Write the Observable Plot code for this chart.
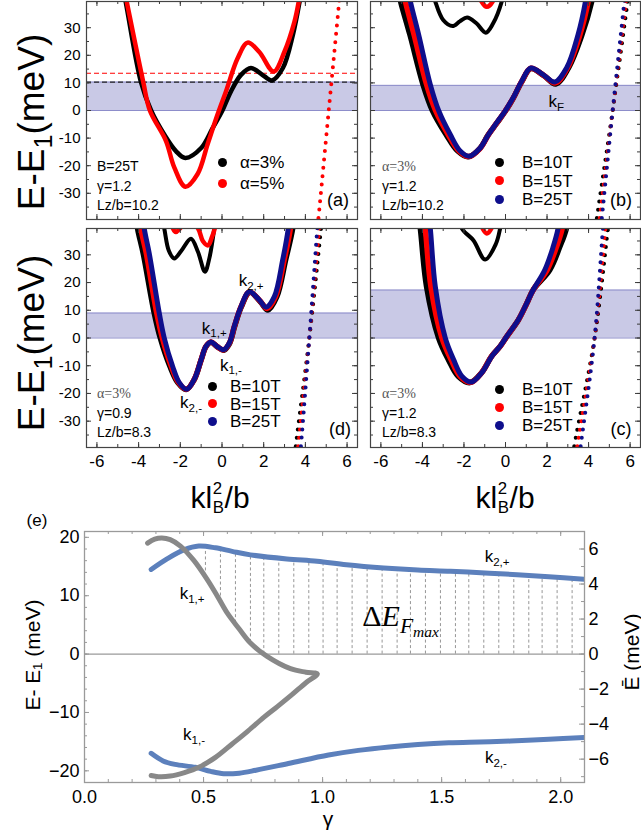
<!DOCTYPE html>
<html><head><meta charset="utf-8">
<script src="https://cdn.jsdelivr.net/npm/d3@7"></script>
<script src="https://cdn.jsdelivr.net/npm/@observablehq/plot@0.6"></script>
<style>
body{margin:0;background:#fff;}
#fig{position:relative;width:641px;height:837px;overflow:hidden;background:#fff;}
</style></head><body><div id="fig"></div>
<script>
// ---------------- DATA ----------------
// axes
const kDomain = [-6.5, 6.5];
const eDomain = [-39.5, 39.5];
const kMinor = [-6,-5,-4,-3,-2,-1,0,1,2,3,4,5,6];
const kMajor = [-6,-4,-2,0,2,4,6];
const eMinor = [-35,-30,-25,-20,-15,-10,-5,0,5,10,15,20,25,30,35];
const eMajor = [-30,-20,-10,0,10,20,30];

// panel (a): B=25T, gamma=1.2, Lz/b=10.2
const a3 = [[-4.85,48],[-4.62,39.4],[-3.89,10.4],[-3.4,0],[-2.77,-8.7],[-2.21,-14.7],[-1.76,-17.2],[-1.0,-13.6],[-0.45,-6.4],[0.02,0],[0.43,6.9],[0.91,12.9],[1.39,15.4],[2.03,12.4],[2.4,10.9],[2.92,15.4],[3.4,27.4],[3.72,39.4],[3.9,48]];
const a5 = [[-4.8,48],[-4.57,39.4],[-3.78,10.4],[-3.46,0],[-2.69,-11],[-2.29,-20.6],[-1.76,-27.6],[-1.17,-23],[-0.69,-12.2],[-0.21,-1.4],[0.19,6.9],[0.75,18.9],[1.23,24.6],[1.79,21.2],[2.48,14.1],[2.99,21.2],[3.47,32],[3.68,39.4],[3.85,48]];
const aDot5 = [[4.5,-48],[4.62,-39.5],[5.12,0],[5.62,39.5],[5.72,48]];
const bandA = [0, 10.3];
const dashA3 = [10.3];
const dashA5 = [13.5];

// panel (b): alpha=3%, gamma=1.2, Lz/b=10.2
const b10 = [[-5.3,48],[-5.05,39.5],[-4.6,27.4],[-3.97,9.4],[-3.52,0],[-2.86,-8.7],[-2.3,-14.7],[-1.8,-16.8],[-1.24,-13.8],[-0.84,-8.9],[-0.42,-4.6],[-0.02,-0.4],[0.37,4.4],[0.78,10.4],[1.22,15.2],[1.85,12.6],[2.42,9.6],[3.03,15.4],[3.68,27.4],[4.15,39.5],[4.35,48]];
const b15 = [[-5.05,48],[-4.82,39.5],[-4.4,27.4],[-3.8,9.4],[-3.37,0],[-2.76,-8.7],[-2.24,-14.7],[-1.77,-16.7],[-1.22,-13.7],[-0.82,-8.8],[-0.42,-4.5],[-0.02,-0.3],[0.37,4.5],[0.78,10.5],[1.22,15.3],[1.83,12.8],[2.4,10.0],[2.98,15.4],[3.58,27.4],[3.98,39.5],[4.15,48]];
const b25 = [[-4.8,48],[-4.58,39.5],[-4.18,27.4],[-3.62,9.4],[-3.22,0],[-2.66,-8.7],[-2.18,-14.7],[-1.75,-16.6],[-1.22,-13.6],[-0.82,-8.7],[-0.42,-4.4],[-0.02,-0.2],[0.37,4.6],[0.78,10.6],[1.22,15.4],[1.81,13.0],[2.37,10.3],[2.94,15.4],[3.49,27.4],[3.85,39.5],[4.0,48]];
const bUp10 = [[-3.6,46],[-3.38,39.5],[-3.0,32.8],[-2.55,30.6],[-2.2,32.3],[-1.85,33.7],[-1.4,31.6],[-0.95,28.2],[-0.6,31.5],[-0.18,39.5],[-0.02,46]];
const bUp15 = [[-1.35,45],[-1.15,39.5],[-0.9,37.6],[-0.62,39.5],[-0.45,45]];
const bDot10 = [[4.25,-48],[4.39,-39.5],[5.16,0],[5.88,39.5],[6.02,48]];
const bDot15 = [[4.39,-48],[4.53,-39.5],[5.16,0],[5.8,39.5],[5.93,48]];
const bDot25 = [[4.5,-48],[4.63,-39.5],[5.16,0],[5.72,39.5],[5.84,48]];
const bandB = [0, 9.1];

// panel (d): alpha=3%, gamma=0.9, Lz/b=8.3
const d10 = [[-4.2,48],[-4.05,39.5],[-3.78,30.5],[-3.25,9],[-2.96,0],[-2.5,-10.2],[-2.12,-16.1],[-1.72,-18.6],[-1.33,-15],[-1.0,-7.9],[-0.77,-3.1],[-0.53,-1.5],[-0.24,-3.1],[0.08,-4.4],[0.36,-2.0],[0.6,4.0],[0.92,11.1],[1.33,16.5],[1.84,13.1],[2.2,10.1],[2.63,14.9],[3.05,28.1],[3.39,39.5],[3.52,48]];
const d15 = [[-4.02,48],[-3.89,39.5],[-3.63,30.5],[-3.13,9],[-2.86,0],[-2.43,-10.2],[-2.08,-16.1],[-1.7,-18.5],[-1.33,-14.95],[-1.0,-7.85],[-0.77,-3.05],[-0.53,-1.45],[-0.24,-3.05],[0.08,-4.3],[0.35,-1.9],[0.59,4.1],[0.91,11.2],[1.32,16.6],[1.82,13.4],[2.16,10.6],[2.57,14.9],[2.98,28.1],[3.28,39.5],[3.4,48]];
const d25 = [[-3.85,48],[-3.73,39.5],[-3.49,30.5],[-3.01,9],[-2.77,0],[-2.37,-10.2],[-2.05,-16.1],[-1.69,-18.5],[-1.33,-14.9],[-1.0,-7.8],[-0.77,-3.0],[-0.53,-1.4],[-0.24,-3.0],[0.08,-4.2],[0.35,-1.8],[0.59,4.2],[0.91,11.3],[1.31,16.7],[1.79,13.7],[2.11,11.1],[2.51,14.9],[2.91,28.1],[3.18,39.5],[3.3,48]];
const dUp10 = [[-2.95,46],[-2.77,39.5],[-2.55,31.5],[-2.29,28.7],[-1.95,31.5],[-1.49,35.8],[-1.15,31],[-0.82,23.9],[-0.6,29],[-0.37,39.5],[-0.25,46]];
const dUp15 = [[-2.5,46],[-2.35,39.5],[-2.21,38.2],[-2.02,39.5],[-1.6,42.5],[-1.15,39.5],[-0.92,35],[-0.67,33.4],[-0.5,36],[-0.35,39.5],[-0.25,46]];
const dDot10 = [[3.42,-48],[3.53,-39.5],[4.19,0],[4.75,39.5],[4.86,48]];
const dDot15 = [[3.54,-48],[3.65,-39.5],[4.19,0],[4.66,39.5],[4.76,48]];
const dDot25 = [[3.67,-48],[3.78,-39.5],[4.19,0],[4.57,39.5],[4.66,48]];
const bandD = [0, 9.0];

// panel (c): alpha=3%, gamma=1.2, Lz/b=8.3
const c10 = [[-4.25,48],[-4.1,39.5],[-3.8,18.5],[-3.22,0],[-2.75,-7.8],[-2.28,-13.8],[-1.72,-16.1],[-1.16,-12.6],[-0.68,-6.7],[-0.27,-3.1],[0.06,0.5],[0.62,6.5],[1.02,12.4],[1.33,17.3],[2.13,24.5],[2.61,32.8],[2.93,39.5],[3.08,48]];
const c15 = [[-4.0,48],[-3.86,39.5],[-3.59,18.5],[-3.06,0],[-2.62,-7.8],[-2.19,-13.8],[-1.68,-16.0],[-1.15,-12.55],[-0.67,-6.65],[-0.26,-3.05],[0.06,0.55],[0.62,6.55],[1.02,12.45],[1.33,17.3],[2.0,24.5],[2.45,32.8],[2.73,39.5],[2.87,48]];
const c25 = [[-3.75,48],[-3.62,39.5],[-3.38,18.5],[-2.9,0],[-2.5,-7.8],[-2.1,-13.8],[-1.65,-15.9],[-1.14,-12.5],[-0.66,-6.6],[-0.26,-3.0],[0.06,0.6],[0.62,6.6],[1.02,12.5],[1.33,17.3],[1.89,24.5],[2.29,32.8],[2.53,39.5],[2.65,48]];
const cUp10 = [[-2.3,46],[-2.1,39.5],[-1.54,35.2],[-0.98,28.3],[-0.46,34],[-0.26,39.5],[-0.12,46]];
const cUp15 = [[-1.3,45],[-1.1,39.5],[-0.9,37.7],[-0.68,39.5],[-0.5,45]];
const cDot10 = [[3.15,-48],[3.3,-39.5],[4.29,0],[4.93,39.5],[5.05,48]];
const cDot15 = [[3.3,-48],[3.45,-39.5],[4.29,0],[4.81,39.5],[4.93,48]];
const cDot25 = [[3.46,-48],[3.61,-39.5],[4.29,0],[4.69,39.5],[4.8,48]];
const bandC = [0, 17.3];

// panel (e): energies vs gamma
const gDomain = [0, 2.1];
const eeDomain = [-22, 21];
const gMinor = [0,0.1,0.2,0.3,0.4,0.5,0.6,0.7,0.8,0.9,1.0,1.1,1.2,1.3,1.4,1.5,1.6,1.7,1.8,1.9,2.0];
const gMajor = [0,0.5,1.0,1.5,2.0];
const eeMinor = [-20,-18,-16,-14,-12,-10,-8,-6,-4,-2,0,2,4,6,8,10,12,14,16,18,20];
const eeMajor = [-20,-10,0,10,20];
const ebarMinor = [-7,-6,-5,-4,-3,-2,-1,0,1,2,3,4,5,6,7];
const ebarMajor = [-6,-4,-2,0,2,4,6];
const EBAR_RATIO = 3; // left-axis meV per right-axis meV
const k2p = [[0.28,14.5],[0.35,16.4],[0.42,17.9],[0.48,18.5],[0.55,18.2],[0.62,17.6],[0.697,17.0],[0.85,16.3],[0.977,15.9],[1.1,15.3],[1.257,14.75],[1.4,14.4],[1.537,14.2],[1.7,13.85],[1.817,13.6],[1.95,13.25],[2.1,12.8]];
const k2m = [[0.28,-17.0],[0.33,-18.3],[0.38,-18.9],[0.466,-19.4],[0.53,-20.1],[0.585,-20.5],[0.65,-20.4],[0.72,-19.9],[0.856,-18.75],[1.025,-17.3],[1.15,-16.5],[1.28,-15.9],[1.4,-15.5],[1.53,-15.2],[1.66,-15.05],[1.79,-14.9],[1.95,-14.6],[2.1,-14.3]];
const k1 = [[0.265,19.0],[0.295,19.7],[0.325,19.9],[0.36,19.6],[0.403,18.5],[0.46,16.0],[0.515,12.8],[0.56,9.8],[0.6,7.0],[0.65,4.3],[0.697,1.9],[0.767,-0.4],[0.865,-2.5],[0.93,-3.1],[0.978,-3.4],[0.93,-4.9],[0.87,-7.0],[0.81,-9.0],[0.754,-10.8],[0.68,-13.4],[0.62,-15.4],[0.55,-17.7],[0.48,-19.4],[0.42,-20.3],[0.36,-20.9],[0.31,-21.0],[0.28,-20.8]];
const hatchG = [0.508,0.571,0.634,0.697,0.753,0.816,0.879,0.942,1.002,1.061,1.124,1.187,1.25,1.313,1.369,1.432,1.495,1.558,1.614,1.677,1.74,1.803,1.866,1.922,1.985,2.048];
const hatchLo = [13.3,9.0,5.3,2.0,0,0,0,0,0,0,0,0,0,0,0,0,0,0,0,0,0,0,0,0,0,0];
const hatchHi = [17.9,17.6,17.2,16.8,16.5,16.2,16.0,15.8,15.6,15.3,15.0,14.8,14.6,14.45,14.35,14.25,14.15,14.05,13.95,13.85,13.7,13.55,13.4,13.25,13.1,12.9];

// ---------------- DRAWING ----------------
const fig = document.getElementById("fig");
const FONT = "'Liberation Sans', Arial, sans-serif";
const SERIF = "'Liberation Serif', 'Times New Roman', serif";
const BLACK = "#000000", RED = "#ff0000", NAVY = "#0e0e8c";
const sub = s => `<span style="font-size:0.68em;position:relative;top:0.32em">${s}</span>`;

function txt(html, x, y, o = {}) {
  const d = document.createElement("div");
  d.innerHTML = html;
  const tx = o.anchor === "start" ? "0" : (o.anchor === "end" ? "-100%" : "-50%");
  d.style.cssText = `position:absolute;left:${x}px;top:${y}px;white-space:nowrap;line-height:1;font-size:${o.size || 14}px;font-family:${o.font || FONT};color:${o.color || "#000"};font-style:${o.italic ? "italic" : "normal"};transform:translate(${tx},-50%)${o.rotate ? " rotate(-90deg)" : ""};` + (o.css || "");
  fig.appendChild(d);
  return d;
}
function mount(svg, left, top) {
  svg.style.position = "absolute"; svg.style.left = left + "px"; svg.style.top = top + "px";
  fig.appendChild(svg); return svg;
}
function legendDot(color, x, y) {
  const s = document.createElement("div");
  s.style.cssText = `position:absolute;left:${x - 4.5}px;top:${y - 4.5}px;width:9px;height:9px;border-radius:50%;background:${color};`;
  fig.appendChild(s);
}

const xy = {x: d => d[0], y: d => d[1]};

function bandPanel(cfg) {
  const {left, top, width, height, mt, mb, ml, mr} = cfg;
  const fw = width - ml - mr, fh = height - mt - mb;
  const marks = [
    Plot.rect([cfg.band], {x1: () => kDomain[0], x2: () => kDomain[1], y1: d => d[0], y2: d => d[1], fill: "#9c9cd2", fillOpacity: 0.55}),
    Plot.ruleY(cfg.band, {stroke: "#8d8dca", strokeWidth: 1})
  ];
  for (const s of (cfg.dashed || [])) marks.push(Plot.ruleY(s.data, {stroke: s.color, strokeWidth: 1.2, strokeDasharray: "5,3"}));
  for (const s of cfg.dots) marks.push(Plot.line(s.data, {...xy, stroke: s.color, strokeWidth: 4, strokeDasharray: "0,8.4", strokeLinecap: "round", curve: "catmull-rom", clip: true}));
  for (const s of cfg.lines) marks.push(Plot.line(s.data, {...xy, stroke: s.color, strokeWidth: s.w, curve: "catmull-rom", clip: true}));
  const tc = "#3a3a3a";
  for (const [vals, len] of [[kMinor, 3], [kMajor, 5]]) {
    marks.push(Plot.tickX(vals, {x: d => d, insetTop: fh - len, stroke: tc}));
    marks.push(Plot.tickX(vals, {x: d => d, insetBottom: fh - len, stroke: tc}));
  }
  for (const [vals, len] of [[eMinor, 3], [eMajor, 5]]) {
    marks.push(Plot.tickY(vals, {y: d => d, insetRight: fw - len, stroke: tc}));
    marks.push(Plot.tickY(vals, {y: d => d, insetLeft: fw - len, stroke: tc}));
  }
  marks.push(Plot.frame({stroke: "#444", strokeWidth: 1.2}));
  if (cfg.yLabels) marks.push(Plot.axisY(eMajor, {anchor: "left", tickSize: 0, tickPadding: 6, tickFormat: d => String(d), fontSize: 15, label: null}));
  if (cfg.xLabels) marks.push(Plot.axisX(kMajor, {anchor: "bottom", tickSize: 0, tickPadding: 7, tickFormat: d => String(d), fontSize: 17, label: null}));
  const p = Plot.plot({
    width, height, marginTop: mt, marginBottom: mb, marginLeft: ml, marginRight: mr,
    x: {domain: kDomain, axis: null}, y: {domain: eDomain, axis: null},
    style: {fontFamily: FONT, background: "transparent", overflow: "visible", color: "#000"},
    marks
  });
  mount(p, left, top);
  const sx = p.scale("x"), sy = p.scale("y");
  for (const a of (cfg.notes || [])) txt(a.t, left + sx.apply(a.k), top + sy.apply(a.e), {size: 17});
  return p;
}

// (a)
bandPanel({left: 0, top: 0, width: 360, height: 224, mt: 1, mb: 5, ml: 86, mr: 3,
  band: bandA, yLabels: true,
  dashed: [{data: dashA5, color: RED}, {data: dashA3, color: "#222"}],
  dots: [{data: aDot5, color: RED}],
  lines: [{data: a3, color: BLACK, w: 4.5}, {data: a5, color: RED, w: 4.5}]
});
// (b)
bandPanel({left: 367, top: 0, width: 274, height: 224, mt: 1, mb: 5, ml: 3, mr: 1,
  band: bandB,
  dots: [{data: bDot10, color: BLACK}, {data: bDot15, color: RED}, {data: bDot25, color: NAVY}],
  lines: [{data: bUp10, color: BLACK, w: 4}, {data: bUp15, color: RED, w: 4.5},
          {data: b10, color: BLACK, w: 5.5}, {data: b15, color: RED, w: 5.5}, {data: b25, color: NAVY, w: 5}],
  notes: [{t: "k" + sub("F"), k: 2.47, e: 3.3}]
});
// (d)
bandPanel({left: 0, top: 226, width: 360, height: 250, mt: 2, mb: 29, ml: 86, mr: 3,
  band: bandD, yLabels: true, xLabels: true,
  dots: [{data: dDot10, color: BLACK}, {data: dDot15, color: RED}, {data: dDot25, color: NAVY}],
  lines: [{data: dUp10, color: BLACK, w: 4}, {data: dUp15, color: RED, w: 4.5},
          {data: d10, color: BLACK, w: 5.5}, {data: d15, color: RED, w: 5.5}, {data: d25, color: NAVY, w: 5}],
  notes: [{t: "k" + sub("2,+"), k: 1.42, e: 20.6}, {t: "k" + sub("1,+"), k: -0.35, e: 3.6},
          {t: "k" + sub("1,-"), k: 0.45, e: -9.8}, {t: "k" + sub("2,-"), k: -1.46, e: -23.4}]
});
// (c)
bandPanel({left: 367, top: 226, width: 274, height: 250, mt: 2, mb: 29, ml: 3, mr: 1,
  band: bandC, xLabels: true,
  dots: [{data: cDot10, color: BLACK}, {data: cDot15, color: RED}, {data: cDot25, color: NAVY}],
  lines: [{data: cUp10, color: BLACK, w: 4}, {data: cUp15, color: RED, w: 4.5},
          {data: c10, color: BLACK, w: 5.5}, {data: c15, color: RED, w: 5.5}, {data: c25, color: NAVY, w: 5}]
});

// axis titles of the band panels
const yTitle = `E-E${sub("1")}(meV)`;
txt(yTitle, 31, 122, {size: 37, rotate: true});
txt(yTitle, 31, 343, {size: 37, rotate: true});
const kTitle = `kl<span style="display:inline-block;vertical-align:-0.28em;font-size:0.56em;line-height:1.12;text-align:left;margin-left:0.04em;margin-right:0.04em">2<br>B</span>/b`;
txt(kTitle, 220, 499, {size: 30});
txt(kTitle, 505, 499, {size: 30});

// panel letters
txt("(a)", 338, 200, {size: 18});
txt("(b)", 621, 200, {size: 18});
txt("(d)", 340, 429, {size: 18});
txt("(c)", 621, 429, {size: 18});

// parameter notes
const alphaNote = `<span style="font-family:${SERIF};color:#555">&alpha;=3%</span>`;
[["B=25T", 97, 166], ["&gamma;=1.2", 97, 186], ["Lz/b=10.2", 97, 205]].forEach(([t, x, y]) => txt(t, x, y, {size: 14, anchor: "start"}));
[[alphaNote, 382, 166], ["&gamma;=1.2", 382, 186], ["Lz/b=10.2", 382, 205]].forEach(([t, x, y]) => txt(t, x, y, {size: 14, anchor: "start"}));
[[alphaNote, 97, 393], ["&gamma;=0.9", 97, 413], ["Lz/b=8.3", 97, 432]].forEach(([t, x, y]) => txt(t, x, y, {size: 14, anchor: "start"}));
[[alphaNote, 382, 393], ["&gamma;=1.2", 382, 413], ["Lz/b=8.3", 382, 432]].forEach(([t, x, y]) => txt(t, x, y, {size: 14, anchor: "start"}));

// legends
const legA = [["&alpha;=3%", BLACK], ["&alpha;=5%", RED]];
legA.forEach(([t, c], i) => { legendDot(c, 222, 162 + i * 21); txt(t, 240, 162 + i * 21, {size: 17, anchor: "start"}); });
const legB = [["B=10T", BLACK], ["B=15T", RED], ["B=25T", NAVY]];
legB.forEach(([t, c], i) => { legendDot(c, 499, 162 + i * 18.5); txt(t, 522, 162 + i * 18.5, {size: 17, anchor: "start"}); });
legB.forEach(([t, c], i) => { legendDot(c, 212, 386 + i * 17.5); txt(t, 230, 386 + i * 17.5, {size: 17, anchor: "start"}); });
legB.forEach(([t, c], i) => { legendDot(c, 499, 389 + i * 18); txt(t, 522, 389 + i * 18, {size: 17, anchor: "start"}); });

// ---------------- panel (e) ----------------
{
  const left = 0, top = 525, width = 641, height = 300, mt = 6, mb = 43, ml = 84, mr = 57;
  const fw = width - ml - mr, fh = height - mt - mb;
  const gray = "#9a9a9a";
  const fmt = d => d < 0 ? "\u2212" + Math.abs(d) : String(d);
  const marks = [
    Plot.ruleY([0], {stroke: gray, strokeWidth: 1.3}),
    Plot.ruleX(hatchG, {x: d => d, y1: (d, i) => hatchLo[i], y2: (d, i) => hatchHi[i], stroke: "#8a8a8a", strokeWidth: 0.9, strokeDasharray: "3,2.5"}),
    Plot.line(k2p, {...xy, stroke: "#5c80bc", strokeWidth: 5, curve: "catmull-rom", clip: true}),
    Plot.line(k2m, {...xy, stroke: "#5c80bc", strokeWidth: 5, curve: "catmull-rom", clip: true}),
    Plot.line(k1, {...xy, stroke: "#888888", strokeWidth: 5, curve: "catmull-rom", clip: true})
  ];
  for (const [vals, len] of [[gMinor, 3], [gMajor, 5]]) {
    marks.push(Plot.tickX(vals, {x: d => d, insetTop: fh - len, stroke: gray}));
    marks.push(Plot.tickX(vals, {x: d => d, insetBottom: fh - len, stroke: gray}));
  }
  for (const [vals, len] of [[eeMinor, 3], [eeMajor, 5]]) marks.push(Plot.tickY(vals, {y: d => d, insetRight: fw - len, stroke: gray}));
  for (const [vals, len] of [[ebarMinor, 3], [ebarMajor, 5]]) marks.push(Plot.tickY(vals.map(v => v * EBAR_RATIO), {y: d => d, insetLeft: fw - len, stroke: gray}));
  marks.push(Plot.frame({stroke: gray, strokeWidth: 1.3}));
  marks.push(Plot.axisY(eeMajor, {anchor: "left", tickSize: 0, tickPadding: 5, tickFormat: fmt, fontSize: 18, label: null}));
  marks.push(Plot.axisY(ebarMajor.map(v => v * EBAR_RATIO), {anchor: "right", tickSize: 0, tickPadding: 4, tickFormat: d => fmt(Math.round(d / EBAR_RATIO)), fontSize: 18, label: null}));
  marks.push(Plot.axisX(gMajor, {anchor: "bottom", tickSize: 0, tickPadding: 8, tickFormat: d => d.toFixed(1), fontSize: 18, label: null}));
  const p = Plot.plot({
    width, height, marginTop: mt, marginBottom: mb, marginLeft: ml, marginRight: mr,
    x: {domain: gDomain, axis: null}, y: {domain: eeDomain, axis: null},
    style: {fontFamily: FONT, background: "transparent", overflow: "visible", color: "#000"},
    marks
  });
  mount(p, left, top);
  const sx = p.scale("x"), sy = p.scale("y");
  const notesE = [{t: "k" + sub("2,+"), g: 1.735, e: 16.7}, {t: "k" + sub("1,+"), g: 0.454, e: 10.3},
                  {t: "k" + sub("1,-"), g: 0.462, e: -13.8}, {t: "k" + sub("2,-"), g: 1.73, e: -17.8}];
  for (const a of notesE) txt(a.t, left + sx.apply(a.g), top + sy.apply(a.e), {size: 17});
  txt(`&Delta;<i>E</i><span style="font-size:0.72em;position:relative;top:0.3em"><i>F</i><span style="font-size:0.72em;position:relative;top:0.3em"><i>max</i></span></span>`,
      left + sx.apply(1.33), top + sy.apply(6.4), {size: 30, font: SERIF});
  txt("&gamma;", 328, 818, {size: 21});
  txt("E- E\u2081 (meV)", 32, 655, {size: 21, rotate: true});
  txt("E\u0304 (meV)", 631, 652, {size: 21, rotate: true});
  txt("(e)", 37, 520, {size: 17});
}
</script></body></html>
